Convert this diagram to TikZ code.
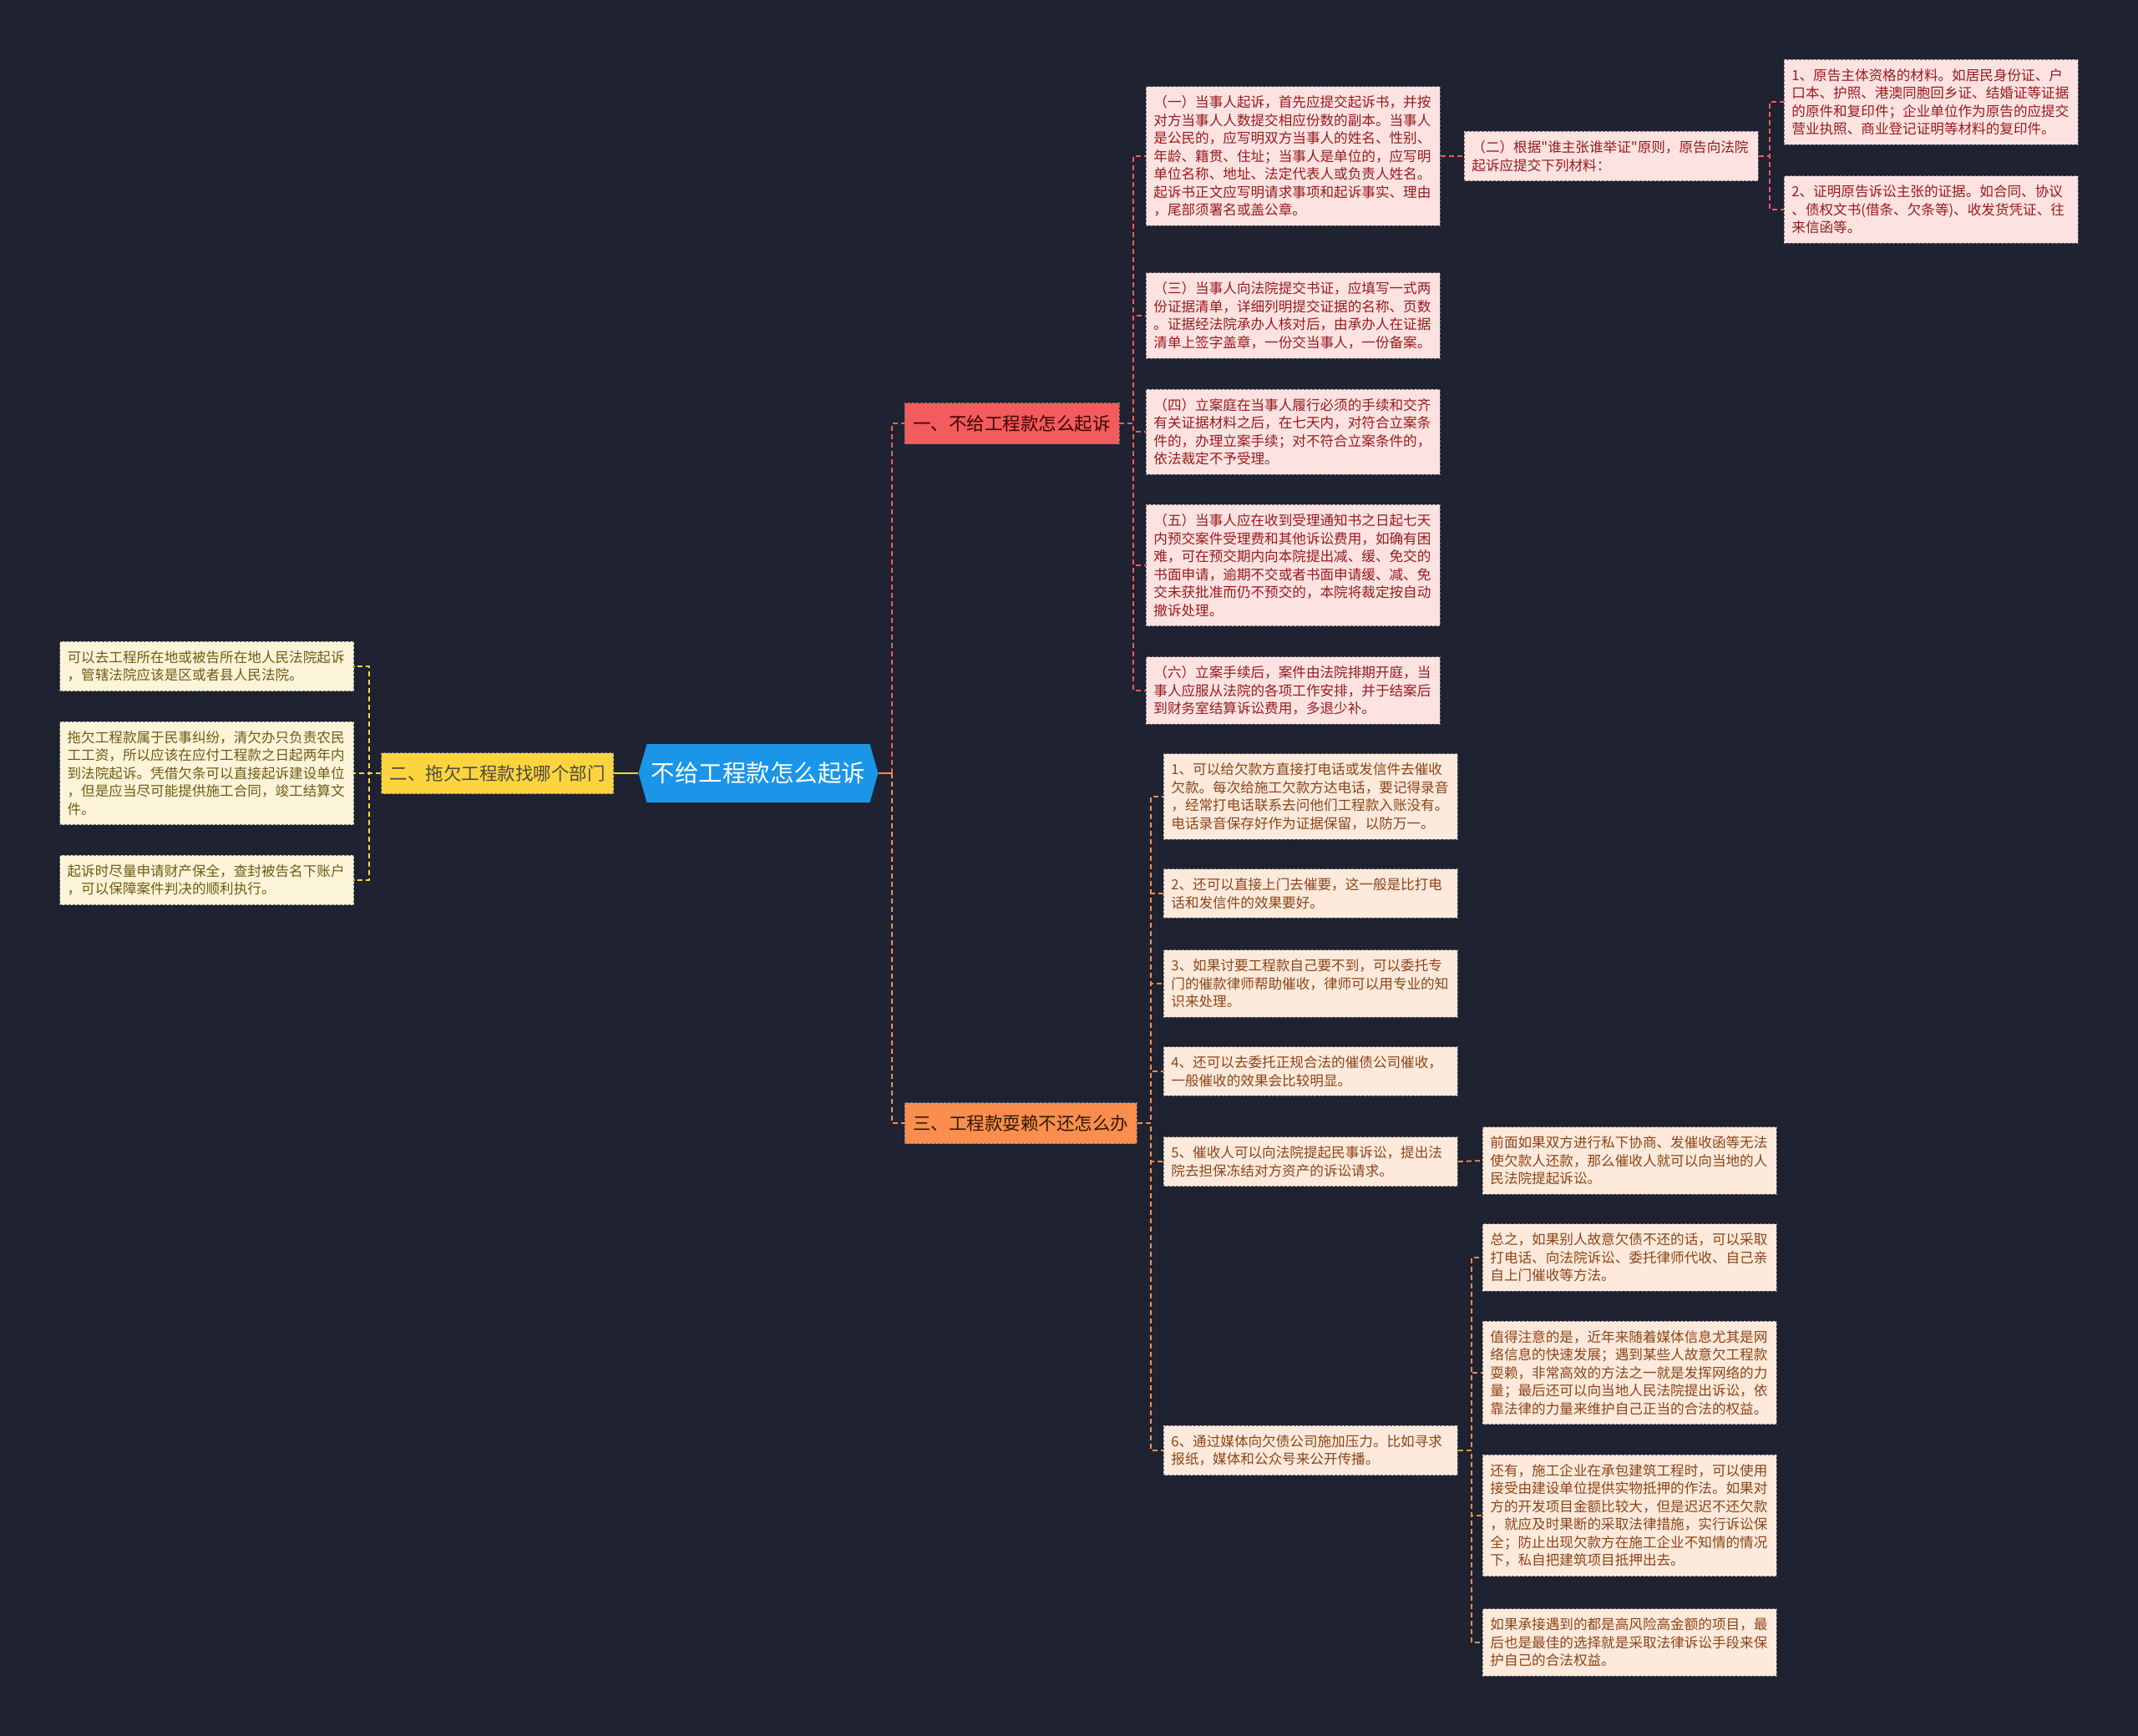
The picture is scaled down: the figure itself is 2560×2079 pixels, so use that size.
\documentclass[tikz,border=0pt]{standalone}
\usepackage{fontspec}
\setmainfont{Noto Sans CJK SC}
\newfontfamily\cjkfont{Noto Sans CJK SC}
\usetikzlibrary{shapes.symbols}

\definecolor{bgcol}{RGB}{31,34,48}
\definecolor{rootblue}{RGB}{26,149,232}
\definecolor{redbr}{RGB}{242,92,92}
\definecolor{yelbr}{RGB}{252,212,64}
\definecolor{orgbr}{RGB}{249,142,78}
\definecolor{redleaf}{RGB}{253,226,226}
\definecolor{yelleaf}{RGB}{252,245,218}
\definecolor{orgleaf}{RGB}{253,234,220}
\definecolor{redtxt}{RGB}{150,28,28}
\definecolor{yeltxt}{RGB}{112,90,18}
\definecolor{orgtxt}{RGB}{140,68,24}

\begin{document}
\begin{tikzpicture}[x=1pt, y=-1pt,
    box/.style={rectangle, draw=black!55, line width=0.8pt, dash pattern=on 3pt off 2pt},
    leaf/.style={box, text width=334pt, align=left, inner xsep=9pt, inner ysep=11pt,
        font=\cjkfont\fontsize{16.6}{21.5}\selectfont},
    redleafbox/.style={leaf, fill=redleaf, text=redtxt},
    yelleafbox/.style={leaf, fill=yelleaf, text=yeltxt},
    orgleafbox/.style={leaf, fill=orgleaf, text=orgtxt},
    branch/.style={box, inner xsep=10pt, minimum height=49pt, font=\cjkfont\fontsize{21.5}{26}\selectfont},
    conred/.style={redbr, line width=1.8pt, dash pattern=on 6pt off 4pt},
    conyel/.style={yelbr, line width=1.8pt, dash pattern=on 6pt off 4pt},
    conorg/.style={orgbr, line width=1.8pt, dash pattern=on 6pt off 4pt}]

    \fill[bgcol] (0,0) rectangle (2560,2079);
    \useasboundingbox (0,0) rectangle (2560,2079);

    \node[shape=signal, signal to=west and east, signal pointer angle=148, fill=rootblue, text=white,
        minimum height=70pt, minimum width=287pt, inner xsep=0pt,
        font=\cjkfont\fontsize{28.5}{34}\selectfont] (root) at (908,926) {不给工程款怎么起诉};

    \node[branch, fill=redbr, text=black!75!red, anchor=west] (b1) at (1083,507) {一、不给工程款怎么起诉};
    \node[branch, fill=yelbr, text=black!80!yellow, anchor=east] (b2) at (735,926) {二、拖欠工程款找哪个部门};
    \node[branch, fill=orgbr, text=black!80!orange, anchor=west] (b3) at (1083,1345) {三、工程款耍赖不还怎么办};

    \node[redleafbox, anchor=west] (l1a) at (1372,187) {（一）当事人起诉，首先应提交起诉书，并按\\对方当事人人数提交相应份数的副本。当事人\\是公民的，应写明双方当事人的姓名、性别、\\年龄、籍贯、住址；当事人是单位的，应写明\\单位名称、地址、法定代表人或负责人姓名。\\起诉书正文应写明请求事项和起诉事实、理由\\，尾部须署名或盖公章。};
    \node[redleafbox, anchor=west] (l1b) at (1753,187) {（二）根据"谁主张谁举证"原则，原告向法院\\起诉应提交下列材料：};
    \node[redleafbox, anchor=west] (l1b1) at (2136,122) {1、原告主体资格的材料。如居民身份证、户\\口本、护照、港澳同胞回乡证、结婚证等证据\\的原件和复印件；企业单位作为原告的应提交\\营业执照、商业登记证明等材料的复印件。};
    \node[redleafbox, anchor=west] (l1b2) at (2136,251) {2、证明原告诉讼主张的证据。如合同、协议\\、债权文书(借条、欠条等)、收发货凭证、往\\来信函等。};
    \node[redleafbox, anchor=west] (l1c) at (1372,378) {（三）当事人向法院提交书证，应填写一式两\\份证据清单，详细列明提交证据的名称、页数\\。证据经法院承办人核对后，由承办人在证据\\清单上签字盖章，一份交当事人，一份备案。};
    \node[redleafbox, anchor=west] (l1d) at (1372,517) {（四）立案庭在当事人履行必须的手续和交齐\\有关证据材料之后，在七天内，对符合立案条\\件的，办理立案手续；对不符合立案条件的，\\依法裁定不予受理。};
    \node[redleafbox, anchor=west] (l1e) at (1372,677) {（五）当事人应在收到受理通知书之日起七天\\内预交案件受理费和其他诉讼费用，如确有困\\难，可在预交期内向本院提出减、缓、免交的\\书面申请，逾期不交或者书面申请缓、减、免\\交未获批准而仍不预交的，本院将裁定按自动\\撤诉处理。};
    \node[redleafbox, anchor=west] (l1f) at (1372,827) {（六）立案手续后，案件由法院排期开庭，当\\事人应服从法院的各项工作安排，并于结案后\\到财务室结算诉讼费用，多退少补。};

    \node[yelleafbox, anchor=east] (y1) at (424,798) {可以去工程所在地或被告所在地人民法院起诉\\，管辖法院应该是区或者县人民法院。};
    \node[yelleafbox, anchor=east] (y2) at (424,926) {拖欠工程款属于民事纠纷，清欠办只负责农民\\工工资，所以应该在应付工程款之日起两年内\\到法院起诉。凭借欠条可以直接起诉建设单位\\，但是应当尽可能提供施工合同，竣工结算文\\件。};
    \node[yelleafbox, anchor=east] (y3) at (424,1054) {起诉时尽量申请财产保全，查封被告名下账户\\，可以保障案件判决的顺利执行。};

    \node[orgleafbox, anchor=west] (o1) at (1393,954) {1、可以给欠款方直接打电话或发信件去催收\\欠款。每次给施工欠款方达电话，要记得录音\\，经常打电话联系去问他们工程款入账没有。\\电话录音保存好作为证据保留，以防万一。};
    \node[orgleafbox, anchor=west] (o2) at (1393,1070) {2、还可以直接上门去催要，这一般是比打电\\话和发信件的效果要好。};
    \node[orgleafbox, anchor=west] (o3) at (1393,1178) {3、如果讨要工程款自己要不到，可以委托专\\门的催款律师帮助催收，律师可以用专业的知\\识来处理。};
    \node[orgleafbox, anchor=west] (o4) at (1393,1283) {4、还可以去委托正规合法的催债公司催收，\\一般催收的效果会比较明显。};
    \node[orgleafbox, anchor=west] (o5) at (1393,1391) {5、催收人可以向法院提起民事诉讼，提出法\\院去担保冻结对方资产的诉讼请求。};
    \node[orgleafbox, anchor=west] (o5a) at (1775,1390) {前面如果双方进行私下协商、发催收函等无法\\使欠款人还款，那么催收人就可以向当地的人\\民法院提起诉讼。};
    \node[orgleafbox, anchor=west] (o6) at (1393,1737) {6、通过媒体向欠债公司施加压力。比如寻求\\报纸，媒体和公众号来公开传播。};
    \node[orgleafbox, anchor=west] (o6a) at (1775,1506) {总之，如果别人故意欠债不还的话，可以采取\\打电话、向法院诉讼、委托律师代收、自己亲\\自上门催收等方法。};
    \node[orgleafbox, anchor=west] (o6b) at (1775,1644) {值得注意的是，近年来随着媒体信息尤其是网\\络信息的快速发展；遇到某些人故意欠工程款\\耍赖，非常高效的方法之一就是发挥网络的力\\量；最后还可以向当地人民法院提出诉讼，依\\靠法律的力量来维护自己正当的合法的权益。};
    \node[orgleafbox, anchor=west] (o6c) at (1775,1815) {还有，施工企业在承包建筑工程时，可以使用\\接受由建设单位提供实物抵押的作法。如果对\\方的开发项目金额比较大，但是迟迟不还欠款\\，就应及时果断的采取法律措施，实行诉讼保\\全；防止出现欠款方在施工企业不知情的情况\\下，私自把建筑项目抵押出去。};
    \node[orgleafbox, anchor=west] (o6d) at (1775,1967) {如果承接遇到的都是高风险高金额的项目，最\\后也是最佳的选择就是采取法律诉讼手段来保\\护自己的合法权益。};

    \coordinate (rj) at ([xshift=16pt]root.east);
    \draw[conred] (rj) |- (b1.west);
    \draw[conorg] (rj) |- (b3.west);
    \draw[orgbr, line width=2pt] (root.east) -- (rj);
    \draw[yelbr, line width=2pt] (root.west) -- (b2.east);

    \foreach \n in {l1a,l1c,l1d,l1e,l1f}
        \draw[conred] (b1.east) -- ++(17,0) |- (\n.west);
    \draw[conred] (l1a.east) -- (l1b.west);
    \foreach \n in {l1b1,l1b2}
        \draw[conred] (l1b.east) -- ++(13,0) |- (\n.west);
    \foreach \n in {y1,y2,y3}
        \draw[conyel] (b2.west) -- ++(-14,0) |- (\n.east);
    \foreach \n in {o1,o2,o3,o4,o5,o6}
        \draw[conorg] (b3.east) -- ++(16,0) |- (\n.west);
    \draw[conorg] (o5.east) -- (o5a.west);
    \foreach \n in {o6a,o6b,o6c,o6d}
        \draw[conorg] (o6.east) -- ++(16,0) |- (\n.west);
\end{tikzpicture}
\end{document}
